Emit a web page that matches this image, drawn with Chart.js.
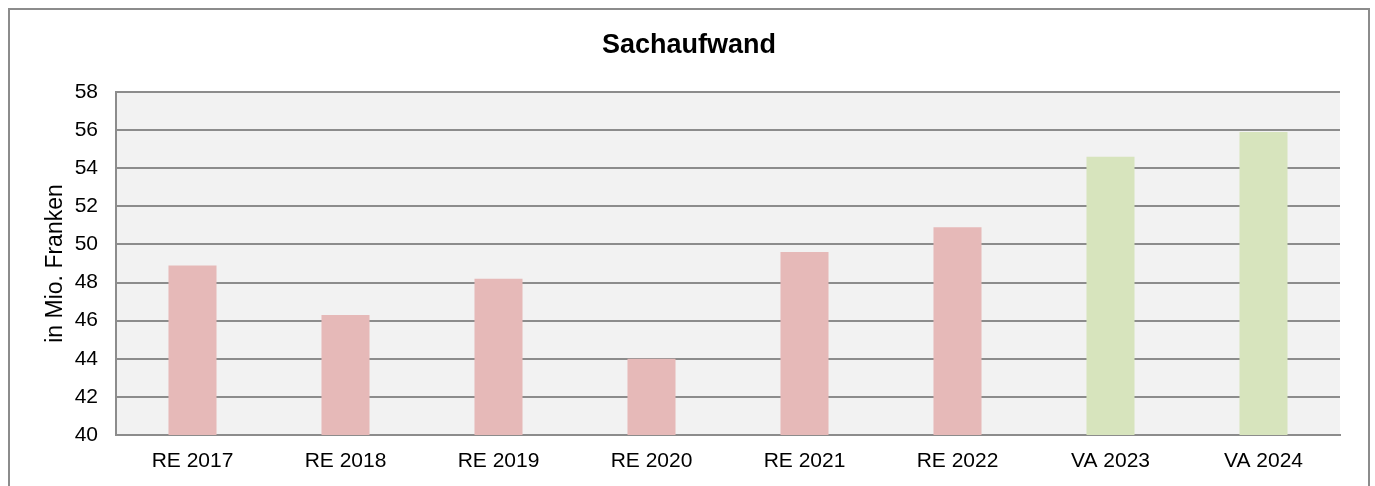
<!DOCTYPE html>
<html>
<head>
<meta charset="utf-8">
<script src="https://cdn.jsdelivr.net/npm/chart.js@4"></script>
<style>
  html, body { margin: 0; padding: 0; background: #fff; }
  #wrap { position: absolute; left: 0; top: 0; width: 1375px; height: 486px; }
</style>
</head>
<body>
<div id="wrap"><canvas id="chart" width="1375" height="486"></canvas></div>
<script>
var categories = ["RE 2017", "RE 2018", "RE 2019", "RE 2020", "RE 2021", "RE 2022", "VA 2023", "VA 2024"];
var values = [48.9, 46.3, 48.2, 44.0, 49.6, 50.9, 54.6, 55.9];
var barColors = ["#e6b9b8", "#e6b9b8", "#e6b9b8", "#e6b9b8", "#e6b9b8", "#e6b9b8", "#d7e4bd", "#d7e4bd"];
var chartTitle = "Sachaufwand";
var yMin = 40, yMax = 58, yStep = 2;

var FONT = "Liberation Sans, Arial, sans-serif";

// plot background, outer frame and the title (centred on the frame)
var frame = {
  id: "frame",
  beforeDraw: function (chart) {
    var ctx = chart.ctx, a = chart.chartArea;
    ctx.save();
    ctx.fillStyle = "#ffffff";
    ctx.fillRect(0, 0, chart.width, chart.height);
    ctx.strokeStyle = "#8c8c8c";
    ctx.lineWidth = 2;
    ctx.strokeRect(9, 9, 1360, 600);
    ctx.fillStyle = "#f2f2f2";
    ctx.fillRect(a.left, a.top, a.right - a.left, a.bottom - a.top);
    ctx.fillStyle = "#000";
    ctx.font = "bold 27px " + FONT;
    ctx.textAlign = "center";
    ctx.textBaseline = "middle";
    ctx.fillText(chartTitle, 689, 46);
    ctx.restore();
  }
};

new Chart(document.getElementById("chart"), {
  type: "bar",
  data: {
    labels: categories,
    datasets: [
      {
        label: chartTitle,
        data: values,
        backgroundColor: barColors,
        borderWidth: 0,
        categoryPercentage: 1,
        barPercentage: 0.314,
      },
    ],
  },
  plugins: [frame],
  options: {
    responsive: false,
    animation: false,
    layout: { padding: { left: 0, right: 35, top: 92, bottom: 0 } },
    plugins: {
      legend: { display: false },
      tooltip: { enabled: false },
      title: { display: false },
    },
    scales: {
      x: {
        grid: { display: false, drawTicks: false },
        border: { display: true, color: "#8c8c8c", width: 2 },
        ticks: {
          color: "#000",
          padding: 14,
          maxRotation: 0,
          font: { family: FONT, size: 21 },
        },
        afterFit: function (scale) { scale.height = 51; },
      },
      y: {
        min: yMin,
        max: yMax,
        grid: { color: "#8c8c8c", lineWidth: 2, drawTicks: false },
        border: { display: true, color: "#8c8c8c", width: 2 },
        ticks: {
          stepSize: yStep,
          color: "#000",
          padding: 18,
          font: { family: FONT, size: 21 },
        },
        title: {
          display: true,
          text: "in Mio. Franken",
          color: "#000",
          padding: { top: 42, bottom: 0 },
          font: { family: FONT, size: 23, lineHeight: 1.2 },
        },
        afterFit: function (scale) { scale.width = 116; },
      },
    },
  },
});
</script>
</body>
</html>
